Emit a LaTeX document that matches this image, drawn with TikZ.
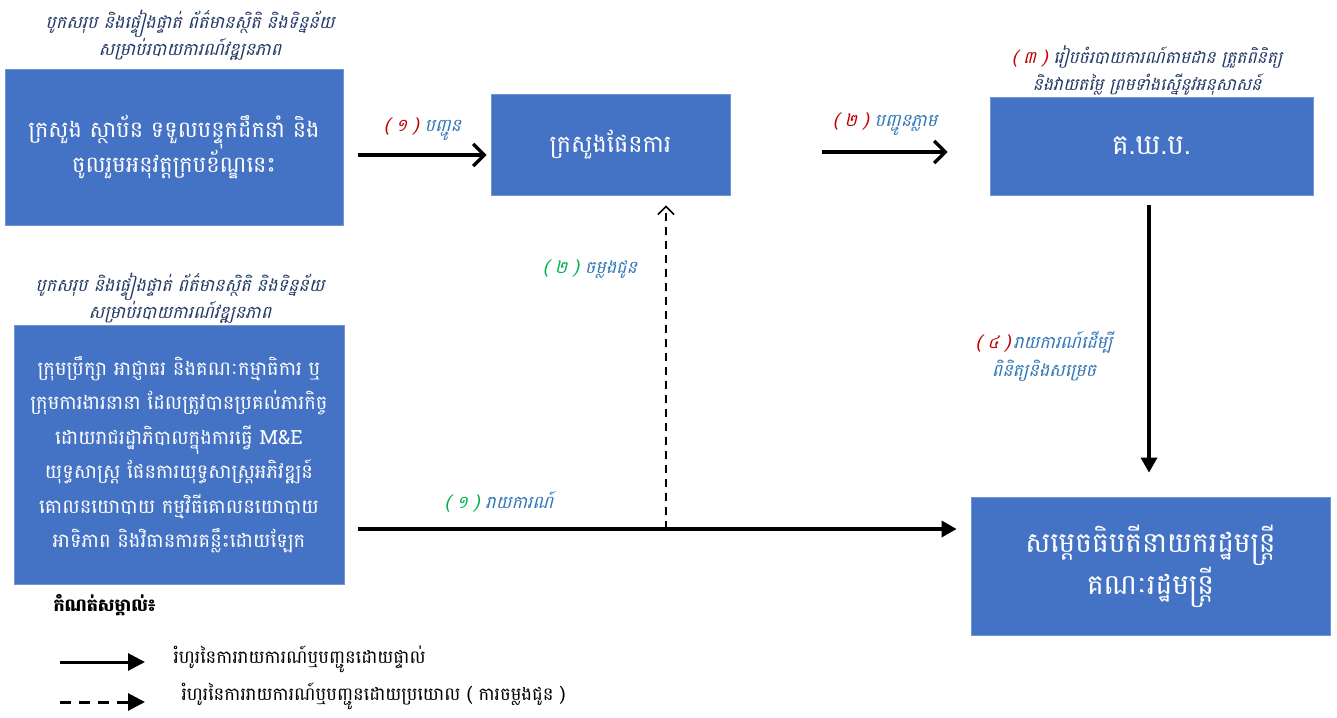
\documentclass[tikz,border=0pt]{standalone}
\usepackage{fontspec}
\usetikzlibrary{arrows.meta,positioning,calc}
\newfontfamily\khmer[Script=Khmer]{Battambang}
\newfontfamily\khmerit[Script=Khmer,FakeSlant=0.25]{Battambang}
\definecolor{boxblue}{HTML}{4472C4}
\definecolor{navytext}{HTML}{203864}
\definecolor{lblblue}{HTML}{2E75B6}
\definecolor{lblred}{HTML}{C00000}
\definecolor{lblgreen}{HTML}{00B050}

\begin{document}
\begin{tikzpicture}[x=1pt,y=-1pt,
    box/.style={rectangle,fill=boxblue,draw=boxblue!75!white,line width=0.8pt,
        text=white,align=center,inner sep=0pt,
        font=\khmer\fontsize{22.5}{33}\selectfont},
    note/.style={align=center,text=navytext,font=\khmerit\fontsize{17.5}{27}\selectfont},
    lbl/.style={align=center,font=\khmerit\fontsize{17.5}{28}\selectfont},
    legtext/.style={anchor=west,font=\khmer\fontsize{18}{20}\selectfont},
    sendarrow/.style={line width=3.4pt,-{Straight Barb[length=11pt,width=22pt,line width=3.4pt]}},
    reportarrow/.style={line width=3.4pt,-{Triangle[length=15pt,width=16pt]}},
    copyarrow/.style={line width=2pt,dash pattern=on 8pt off 6pt,-{Straight Barb[length=8pt,width=16pt,line width=1.6pt]}}
  ]
  \useasboundingbox (0,0) rectangle (1337,717);

  % boxes
  \node[box,minimum width=338,minimum height=156] (ministry) at (174,147)
    {ក្រសួង ស្ថាប័ន ទទួលបន្ទុកដឹកនាំ និង\\ចូលរួមអនុវត្តក្របខ័ណ្ឌនេះ};
  \node[box,minimum width=239,minimum height=101,font=\khmer\fontsize{24}{33}\selectfont] (plan) at (610.5,144.5) {ក្រសួងផែនការ};
  \node[box,minimum width=323,minimum height=98,font=\khmer\fontsize{28}{33}\selectfont] (gkp) at (1151.5,146) {គ.ឃ.ប.};
  \node[box,minimum width=330,minimum height=259,font=\khmer\fontsize{19.5}{34.5}\selectfont] (council) at (179,454.5)
    {ក្រុមប្រឹក្សា អាជ្ញាធរ និងគណៈកម្មាធិការ ឬ\\ក្រុមការងារនានា ដែលត្រូវបានប្រគល់ភារកិច្ច\\ដោយរាជរដ្ឋាភិបាលក្នុងការធ្វើ M\&E\\យុទ្ធសាស្ត្រ ផែនការយុទ្ធសាស្ត្រអភិវឌ្ឍន៍\\គោលនយោបាយ កម្មវិធីគោលនយោបាយ\\អាទិភាព និងវិធានការគន្លឹះដោយឡែក};
  \node[box,minimum width=359,minimum height=138,font=\khmer\fontsize{28}{42}\selectfont] (pm) at (1150.5,566)
    {សម្តេចធិបតីនាយករដ្ឋមន្ត្រី\\គណៈរដ្ឋមន្ត្រី};

  % notes above the boxes
  \node[note] (ministrynote) at (190,35)
    {បូកសរុប និងផ្ទៀងផ្ទាត់ ព័ត៌មានស្ថិតិ និងទិន្នន័យ\\សម្រាប់របាយការណ៍វឌ្ឍនភាព};
  \node[note] (councilnote) at (180,298)
    {បូកសរុប និងផ្ទៀងផ្ទាត់ ព័ត៌មានស្ថិតិ និងទិន្នន័យ\\សម្រាប់របាយការណ៍វឌ្ឍនភាព};
  \node[note,font=\khmerit\fontsize{17}{27}\selectfont] (gkpnote) at (1147,70)
    {{\color{lblred}( ៣ )}\ រៀបចំរបាយការណ៍តាមដាន ត្រួតពិនិត្យ\\និងវាយតម្លៃ ព្រមទាំងស្នើនូវអនុសាសន៍};

  % connectors
  \coordinate (split) at (666,529);
  \draw[sendarrow] ($(ministry.east)+(15,8)$) -- ($(plan.west)+(-4,10.5)$)
    node[lbl,pos=0.5,above=10pt] (sendlbl) {{\color{lblred}( ១ )}\ {\color{lblblue}បញ្ជូន}};
  \draw[sendarrow] ($(plan.east)+(92,7.5)$) -- ($(gkp.west)+(-42,6)$)
    node[lbl,pos=0.5,above=12pt] (fwdlbl) {{\color{lblred}( ២ )}\ {\color{lblblue}បញ្ជូនភ្លាម}};
  \draw[reportarrow] ($(gkp.south)+(-2.5,10)$) -- ($(pm.north)+(-1.5,-24)$);
  \draw[reportarrow] ($(council.east |- split)+(14,0)$) -- ($(pm.west |- split)+(-14,0)$);
  \draw[copyarrow] (split) -- ($(plan.south)+(55.5,10)$);

  % connector labels
  \node[lbl] (reportlbl) at (499,502) {{\color{lblgreen}( ១ )}\ {\color{lblblue}រាយការណ៍}};
  \node[lbl] (copylbl) at (590,269) {{\color{lblgreen}( ២ )}\ {\color{lblblue}ចម្លងជូន}};
  \node[lbl,text=lblblue] (pmlbl) at (1044,356)
    {{\color{lblred}( ៤ )}\,រាយការណ៍ដើម្បី\\ពិនិត្យនិងសម្រេច};

  % legend
  \node[anchor=west,font=\khmer\bfseries\fontsize{17.5}{20}\selectfont] (legtitle) at (50,605) {កំណត់សម្គាល់៖};
  \coordinate (directa) at (60,662);
  \coordinate (directb) at (145,662);
  \coordinate (indirecta) at (60,702);
  \coordinate (indirectb) at (145,702);
  \draw[line width=3pt,-{Triangle[length=17pt,width=17pt]}] (directa) -- (directb);
  \draw[line width=3pt,dash pattern=on 11pt off 8pt,-{Triangle[length=17pt,width=17pt]}] (indirecta) -- (indirectb);
  \node[legtext] (directtext) at (170,659) {រំហូរនៃការរាយការណ៍ឬបញ្ជូនដោយផ្ទាល់};
  \node[legtext] (indirecttext) at (178,696) {រំហូរនៃការរាយការណ៍ឬបញ្ជូនដោយប្រយោល ( ការចម្លងជូន )};
\end{tikzpicture}
\end{document}
